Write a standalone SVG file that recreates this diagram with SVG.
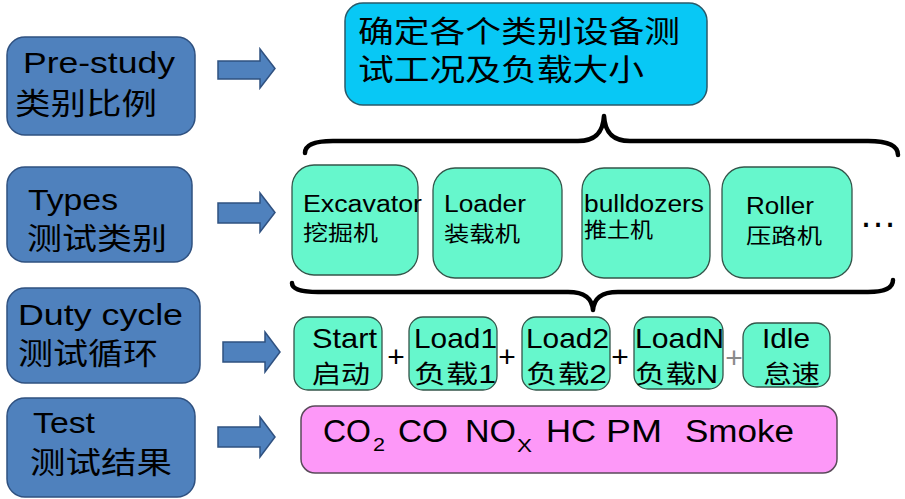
<svg xmlns="http://www.w3.org/2000/svg" width="905" height="499" viewBox="0 0 905 499">
  <style>
    text { font-family: "Liberation Sans", "Noto Sans CJK SC", sans-serif; fill: #000; }
    .step { fill: #4f81bd; stroke: #2f5180; stroke-width: 1.5; }
    .arrow { fill: #4f81bd; stroke: #2f5180; stroke-width: 1.5; stroke-linejoin: miter; }
    .goal { fill: #08c8f5; stroke: #2a5a6a; stroke-width: 1.5; }
    .kind { fill: #66f7cc; stroke: #34554a; stroke-width: 1.3; }
    .result { fill: #fd98f8; stroke: #5a4a5a; stroke-width: 1.5; }
    .brace { fill: none; stroke: #000; stroke-width: 4.5; stroke-linecap: round; stroke-linejoin: round; }
    .big { font-size: 30px; }
    .gas { font-size: 31px; }
    .sub { font-size: 19px; }
    .mid { font-size: 23px; }
    .midzh { font-size: 21px; }
    .duty { font-size: 28px; }
    .dutyzh { font-size: 25px; }
    .plus { font-size: 30px; text-anchor: middle; }
  </style>

  <!-- left column: stages -->
  <g id="prestudy">
    <rect class="step" x="7" y="37" width="188" height="98" rx="18"/>
    <text class="big" x="23" y="73" textLength="152" lengthAdjust="spacingAndGlyphs">Pre-study</text>
    <text class="big" x="15" y="114" textLength="142" lengthAdjust="spacingAndGlyphs">类别比例</text>
  </g>
  <g id="types">
    <rect class="step" x="7" y="167" width="185" height="95" rx="18"/>
    <text class="big" x="28" y="210" textLength="90" lengthAdjust="spacingAndGlyphs">Types</text>
    <text class="big" x="27" y="249" textLength="140" lengthAdjust="spacingAndGlyphs">测试类别</text>
  </g>
  <g id="dutycycle">
    <rect class="step" x="7" y="288" width="193" height="95" rx="18"/>
    <text class="big" x="18" y="325" textLength="165" lengthAdjust="spacingAndGlyphs">Duty cycle</text>
    <text class="big" x="18" y="364" textLength="140" lengthAdjust="spacingAndGlyphs">测试循环</text>
  </g>
  <g id="test">
    <rect class="step" x="7" y="398" width="188" height="99" rx="18"/>
    <text class="big" x="33" y="433" textLength="62" lengthAdjust="spacingAndGlyphs">Test</text>
    <text class="big" x="30" y="473" textLength="142" lengthAdjust="spacingAndGlyphs">测试结果</text>
  </g>

  <!-- connectors: block arrows and braces -->
  <g id="connectors">
    <path class="arrow" d="M218,61 H260 V49 L275,68.5 L260,88 V79 H218 Z"/>
    <path class="arrow" d="M218,203 H260 V193 L275,212.5 L260,232 V223 H218 Z"/>
    <path class="arrow" d="M223,342 H265 V332 L280,352 L265,372 V362 H223 Z"/>
    <path class="arrow" d="M218,427 H260 V417 L275,437 L260,457 V447 H218 Z"/>
    <path class="brace" d="M305,153 C305,145 313,141 333,141 L578,141 C597,141 603,131 604,116 C605,131 611,141 630,141 L868,141 C889,141 898,146 898,155"/>
    <path class="brace" d="M292,283 C292,289 300,292 318,292 L568,292 C586,292 592,299 593,310 C594,299 600,292 618,292 L868,292 C886,292 893,288 893,280"/>
  </g>

  <!-- goal box -->
  <g id="goal">
    <rect class="goal" x="345" y="3" width="362" height="102" rx="18"/>
    <text class="big" x="358" y="42" textLength="322" lengthAdjust="spacingAndGlyphs">确定各个类别设备测</text>
    <text class="big" x="358" y="80" textLength="286" lengthAdjust="spacingAndGlyphs">试工况及负载大小</text>
  </g>

  <!-- machine types -->
  <g id="excavator">
    <rect class="kind" x="292" y="165" width="126" height="110" rx="22"/>
    <text class="mid" x="303" y="212" textLength="119" lengthAdjust="spacingAndGlyphs">Excavator</text>
    <text class="midzh" x="303" y="240" textLength="75" lengthAdjust="spacingAndGlyphs">挖掘机</text>
  </g>
  <g id="loader">
    <rect class="kind" x="433" y="168" width="129" height="110" rx="22"/>
    <text class="mid" x="444" y="212" textLength="82" lengthAdjust="spacingAndGlyphs">Loader</text>
    <text class="midzh" x="444" y="241" textLength="76" lengthAdjust="spacingAndGlyphs">装载机</text>
  </g>
  <g id="bulldozer">
    <rect class="kind" x="582" y="168" width="128" height="110" rx="22"/>
    <text class="mid" x="584" y="212" textLength="120" lengthAdjust="spacingAndGlyphs">bulldozers</text>
    <text class="midzh" x="584" y="237" textLength="69" lengthAdjust="spacingAndGlyphs">推土机</text>
  </g>
  <g id="roller">
    <rect class="kind" x="722" y="167" width="130" height="111" rx="22"/>
    <text class="mid" x="746" y="214" textLength="68" lengthAdjust="spacingAndGlyphs">Roller</text>
    <text class="midzh" x="746" y="243" textLength="76" lengthAdjust="spacingAndGlyphs">压路机</text>
  </g>
  <g id="more">
    <text x="859" y="227" font-size="38" textLength="38" lengthAdjust="spacingAndGlyphs">…</text>
  </g>

  <!-- duty cycle phases -->
  <g id="start">
    <rect class="kind" x="294" y="317" width="88" height="73" rx="14"/>
    <text class="duty" x="312" y="348" textLength="65" lengthAdjust="spacingAndGlyphs">Start</text>
    <text class="dutyzh" x="312" y="383" textLength="58" lengthAdjust="spacingAndGlyphs">启动</text>
  </g>
  <g id="load1">
    <rect class="kind" x="409" y="317" width="88" height="73" rx="14"/>
    <text class="duty" x="414" y="348" textLength="83" lengthAdjust="spacingAndGlyphs">Load1</text>
    <text class="dutyzh" x="414" y="383" textLength="82" lengthAdjust="spacingAndGlyphs">负载1</text>
  </g>
  <g id="load2">
    <rect class="kind" x="522" y="317" width="88" height="73" rx="14"/>
    <text class="duty" x="526" y="348" textLength="83" lengthAdjust="spacingAndGlyphs">Load2</text>
    <text class="dutyzh" x="526" y="383" textLength="81" lengthAdjust="spacingAndGlyphs">负载2</text>
  </g>
  <g id="loadN">
    <rect class="kind" x="634" y="317" width="89" height="72" rx="14"/>
    <text class="duty" x="635" y="348" textLength="89" lengthAdjust="spacingAndGlyphs">LoadN</text>
    <text class="dutyzh" x="635" y="383" textLength="83" lengthAdjust="spacingAndGlyphs">负载N</text>
  </g>
  <g id="idle">
    <rect class="kind" x="743" y="323" width="87" height="64" rx="14"/>
    <text class="duty" x="762" y="348" textLength="48" lengthAdjust="spacingAndGlyphs">Idle</text>
    <text class="dutyzh" x="763" y="383" textLength="57" lengthAdjust="spacingAndGlyphs">怠速</text>
  </g>
  <g id="plus-signs">
    <text class="plus" x="396" y="367">+</text>
    <text class="plus" x="507" y="367">+</text>
    <text class="plus" x="620" y="367">+</text>
    <text class="plus" x="734" y="368" style="fill:#8a8a8a">+</text>
  </g>

  <!-- measured emissions -->
  <g id="results">
    <rect class="result" x="301" y="406" width="536" height="67" rx="14"/>
    <text class="gas" x="323" y="442" textLength="48" lengthAdjust="spacingAndGlyphs">CO</text>
    <text class="sub" x="373" y="451" textLength="12" lengthAdjust="spacingAndGlyphs">2</text>
    <text class="gas" x="398" y="442" textLength="50" lengthAdjust="spacingAndGlyphs">CO</text>
    <text class="gas" x="465" y="442" textLength="51" lengthAdjust="spacingAndGlyphs">NO</text>
    <text class="sub" x="517" y="452" textLength="15" lengthAdjust="spacingAndGlyphs">X</text>
    <text class="gas" x="546" y="442" textLength="50" lengthAdjust="spacingAndGlyphs">HC</text>
    <text class="gas" x="606" y="442" textLength="56" lengthAdjust="spacingAndGlyphs">PM</text>
    <text class="gas" x="685" y="442" textLength="109" lengthAdjust="spacingAndGlyphs">Smoke</text>
  </g>
</svg>
